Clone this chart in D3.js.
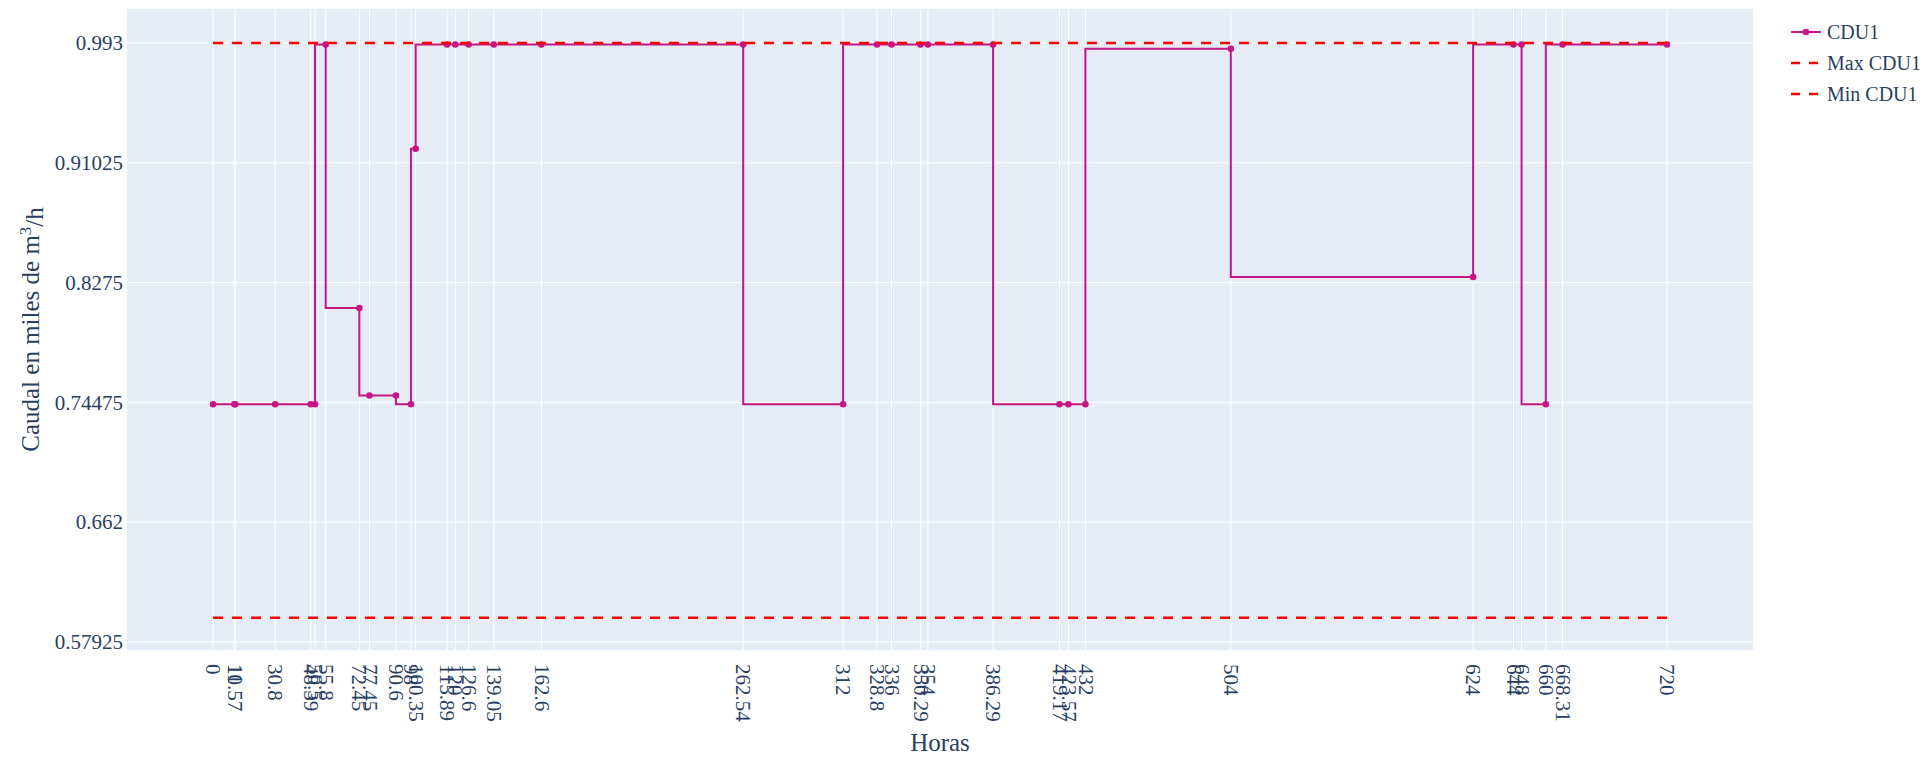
<!DOCTYPE html>
<html>
<head>
<meta charset="utf-8">
<script src="https://cdn.jsdelivr.net/npm/d3@7"></script>
<style>
  body { margin: 0; background: #fff; }
  svg { display: block; }
</style>
</head>
<body>
<svg id="chart" width="1932" height="759"></svg>
<script>
// Operating hours at which the CDU1 flow changes
const horas = [0, 10.57, 11, 30.8, 48.39, 50.5, 55.8, 72.45, 77.45, 90.6, 98, 100.35,
  115.89, 120, 126.6, 139.05, 162.6, 262.54, 312, 328.8, 336, 350.29, 354, 386.29,
  419.17, 423.57, 432, 504, 624, 644, 648, 660, 668.31, 720];
// CDU1 flow, thousands of m3/h
const caudal = [0.7435, 0.7435, 0.7435, 0.7435, 0.7435, 0.7435, 0.992, 0.81, 0.7495, 0.7495, 0.7435, 0.92,
  0.992, 0.992, 0.992, 0.992, 0.992, 0.992, 0.7435, 0.992, 0.992, 0.992, 0.992, 0.992,
  0.7435, 0.7435, 0.7435, 0.989, 0.8314, 0.992, 0.992, 0.7435, 0.992, 0.992];
// Operating limits
const maxCDU1 = 0.993;
const minCDU1 = 0.596;
const limitHoras = [0, 720];
// Axis ticks
const yTickValues = [0.57925, 0.662, 0.74475, 0.8275, 0.91025, 0.993];
const yTickLabels = ["0.57925", "0.662", "0.74475", "0.8275", "0.91025", "0.993"];
const xTickValues = horas;
const xTickLabels = horas.map(String);

const W = 1932, H = 759;
const plot = { left: 127, right: 1753, top: 9, bottom: 650 };
const fontFamily = '"Liberation Serif", "Times New Roman", serif';
const textColor = "#2a3f5f";
const lineColor = "#c71585";
const limitColor = "#ff0000";

const svg = d3.select("#chart");
svg.append("rect").attr("width", W).attr("height", H).attr("fill", "#fff");

const x = d3.scaleLinear().domain([-42.6, 762.6]).range([plot.left, plot.right]);
const y = d3.scaleLinear().domain([0.5737, 1.0165]).range([plot.bottom, plot.top]);

svg.append("rect")
  .attr("x", plot.left).attr("y", plot.top)
  .attr("width", plot.right - plot.left).attr("height", plot.bottom - plot.top)
  .attr("fill", "#e5ecf6");

// Grid lines
const grid = svg.append("g");
grid.selectAll("line.gx").data(xTickValues).join("line")
  .attr("x1", d => x(d)).attr("x2", d => x(d))
  .attr("y1", plot.top).attr("y2", plot.bottom)
  .attr("stroke", "#fff").attr("stroke-width", 1);
grid.selectAll("line.gy").data(yTickValues).join("line")
  .attr("x1", plot.left).attr("x2", plot.right)
  .attr("y1", d => y(d)).attr("y2", d => y(d))
  .attr("stroke", "#fff").attr("stroke-width", 1);

// Y axis
const yAxis = d3.axisLeft(y).tickValues(yTickValues)
  .tickFormat((d, i) => yTickLabels[i]).tickSize(0).tickPadding(4);
const gy = svg.append("g").attr("transform", `translate(${plot.left},0)`).call(yAxis);
gy.select(".domain").remove();
gy.selectAll("text").attr("fill", textColor).style("font-family", fontFamily).style("font-size", "21px");

// X axis with vertical labels
const xAxis = d3.axisBottom(x).tickValues(xTickValues)
  .tickFormat((d, i) => xTickLabels[i]).tickSize(0);
const gx = svg.append("g").attr("transform", `translate(0,${plot.bottom})`).call(xAxis);
gx.select(".domain").remove();
gx.selectAll("text")
  .attr("fill", textColor).style("font-family", fontFamily).style("font-size", "21px")
  .attr("text-anchor", "start").attr("dy", "0.35em").attr("y", 0)
  .attr("transform", "translate(0,14) rotate(90)");

// Axis titles
svg.append("text")
  .attr("x", (plot.left + plot.right) / 2).attr("y", 751)
  .attr("text-anchor", "middle").attr("fill", textColor)
  .style("font-family", fontFamily).style("font-size", "25px")
  .text("Horas");

const yTitle = svg.append("text")
  .attr("transform", `translate(39,${(plot.top + plot.bottom) / 2}) rotate(-90)`)
  .attr("text-anchor", "middle").attr("fill", textColor)
  .style("font-family", fontFamily).style("font-size", "25px");
yTitle.append("tspan").text("Caudal en miles de m");
yTitle.append("tspan").attr("dy", "-0.45em").style("font-size", "17px").text("3");
yTitle.append("tspan").attr("dy", "0.45em").text("/h");

// CDU1 flow as a step line
const series = horas.map((h, i) => [h, caudal[i]]);
svg.append("clipPath").attr("id", "plotclip").append("rect")
  .attr("x", plot.left).attr("y", plot.top)
  .attr("width", plot.right - plot.left).attr("height", plot.bottom - plot.top);
const pg = svg.append("g").attr("clip-path", "url(#plotclip)");

pg.append("path")
  .datum(series)
  .attr("fill", "none").attr("stroke", lineColor).attr("stroke-width", 2)
  .attr("d", d3.line().x(d => x(d[0])).y(d => y(d[1])).curve(d3.curveStepBefore));
pg.selectAll("circle.pt").data(series).join("circle")
  .attr("cx", d => x(d[0])).attr("cy", d => y(d[1])).attr("r", 3.3)
  .attr("fill", lineColor);

// Limit lines
[maxCDU1, minCDU1].forEach(v => {
  pg.append("path")
    .datum(limitHoras.map(h => [h, v]))
    .attr("fill", "none").attr("stroke", limitColor).attr("stroke-width", 2.5)
    .attr("stroke-dasharray", "10,9")
    .attr("d", d3.line().x(d => x(d[0])).y(d => y(d[1])));
});

// Legend
const legendItems = [
  { name: "CDU1", color: lineColor, dash: null, marker: true },
  { name: "Max CDU1", color: limitColor, dash: "9,9", marker: false },
  { name: "Min CDU1", color: limitColor, dash: "9,9", marker: false }
];
const lg = svg.append("g").attr("transform", "translate(1786,0)");
legendItems.forEach((it, i) => {
  const cy = 32 + i * 31;
  const g = lg.append("g").attr("transform", `translate(0,${cy})`);
  g.append("line").attr("x1", 5).attr("x2", 35).attr("y1", 0).attr("y2", 0)
    .attr("stroke", it.color).attr("stroke-width", it.dash ? 2.5 : 2)
    .attr("stroke-dasharray", it.dash);
  if (it.marker) g.append("circle").attr("cx", 20).attr("cy", 0).attr("r", 3.3).attr("fill", it.color);
  g.append("text").attr("x", 41).attr("y", 0).attr("dy", "0.35em")
    .attr("fill", textColor).style("font-family", fontFamily).style("font-size", "20px")
    .text(it.name);
});
</script>
</body>
</html>
